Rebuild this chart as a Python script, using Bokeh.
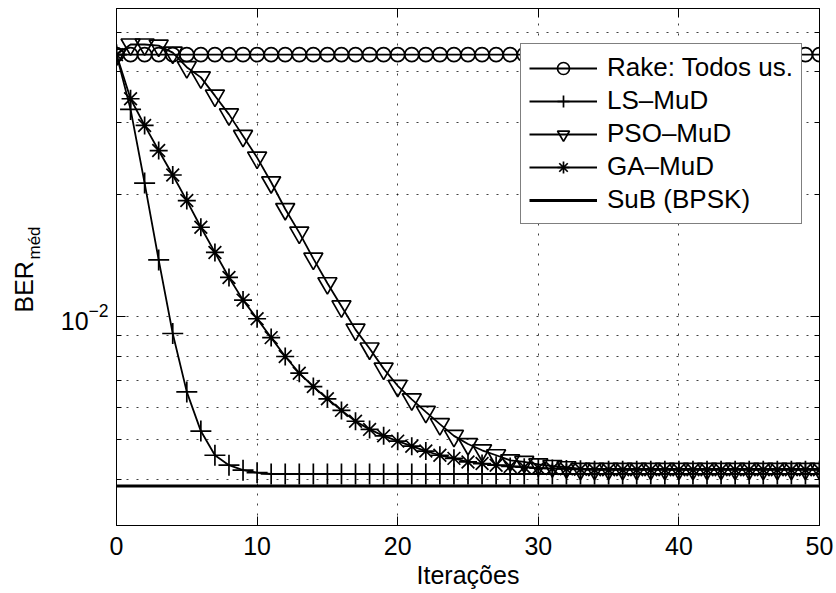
import math
from bokeh.plotting import figure
from bokeh.layouts import row
from bokeh.models import (Range1d, LogAxis, LinearAxis, FixedTicker, Legend,
                          LegendItem, Label, CustomJSTickFormatter)
from bokeh.embed import file_html
from bokeh.resources import INLINE

FONT = "Liberation Sans"

iters = list(range(51))

rake = [0.0440] * 51

ls_mud = [0.0440, 0.0323, 0.0213, 0.0138, 0.00911, 0.00655, 0.00525, 0.00458,
          0.00433, 0.00421, 0.00415] + [0.00412] * 40

pso_mud = [0.0440, 0.0466, 0.0466, 0.0463, 0.0445, 0.0410, 0.0387, 0.0349,
           0.0314, 0.0278, 0.0246, 0.0214, 0.0184, 0.0161, 0.0139, 0.0121,
           0.01062, 0.00931, 0.00837, 0.00747, 0.00678, 0.00628, 0.00585,
           0.00546, 0.00511, 0.00488, 0.00471, 0.00458, 0.00445, 0.00441,
           0.00435, 0.00431, 0.00428] + [0.00424] * 18

ga_mud = [0.0440, 0.0343, 0.0295, 0.0256, 0.0223, 0.0193, 0.0166, 0.0144,
          0.0125, 0.0110, 0.0099, 0.0089, 0.0080, 0.00728, 0.00675, 0.00630,
          0.00590, 0.00555, 0.00530, 0.00511, 0.00496, 0.00482, 0.00469,
          0.00458, 0.00450, 0.00441, 0.00437, 0.00433, 0.00430, 0.00428,
          0.00426, 0.00425, 0.00424, 0.00423] + [0.00422] * 17

sub_bpsk = [0.00385] * 51

labels = ["Rake: Todos us.", "LS\u2013MuD", "PSO\u2013MuD", "GA\u2013MuD", "SuB (BPSK)"]
x_label = "Itera\u00e7\u00f5es"
y_label = "BER"
y_label_sub = "m\u00e9d"

x_ticks = [0, 10, 20, 30, 40, 50]
y_major = [0.01]
y_minor = [0.004, 0.005, 0.006, 0.007, 0.008, 0.009, 0.02, 0.03, 0.04, 0.05]
y_lo, y_hi = 3.08e-3, 0.0571

H = 593
LAB_W = 56
B_TOP = 8
B_BOT = 68

# ---- narrow strip holding the y-axis label (BER with subscript) ----
lab = figure(width=LAB_W, height=H, x_range=Range1d(0, LAB_W), y_range=Range1d(0, H),
             output_backend="svg", toolbar_location=None,
             min_border_left=0, min_border_right=0,
             min_border_top=B_TOP, min_border_bottom=B_BOT,
             x_axis_location=None, y_axis_location=None,
             background_fill_color="white", border_fill_color="white")
lab.outline_line_color = None
lab.grid.grid_line_color = None
# positions measured from the strip's inner frame (bottom edge at page y=525)
lab.add_layout(Label(x=23, y=525 - 312, x_units="screen", y_units="screen", text=y_label,
                     angle=math.pi / 2, text_align="left", text_baseline="alphabetic",
                     text_font=FONT, text_font_size="25px", text_color="black"))
lab.add_layout(Label(x=34, y=525 - 259, x_units="screen", y_units="screen", text=y_label_sub,
                     angle=math.pi / 2, text_align="left", text_baseline="alphabetic",
                     text_font=FONT, text_font_size="17px", text_color="black"))

# ---- main plot ----
p = figure(width=836 - LAB_W, height=H, x_range=Range1d(0, 50), y_range=Range1d(y_lo, y_hi),
           y_axis_type="log", output_backend="svg", toolbar_location=None,
           min_border_left=116 - LAB_W, min_border_right=17, min_border_top=B_TOP,
           min_border_bottom=B_BOT, background_fill_color="white",
           border_fill_color="white")
p.outline_line_color = "black"
p.outline_line_width = 1

xt = FixedTicker(ticks=x_ticks)
yt = FixedTicker(ticks=y_major, minor_ticks=y_minor)
p.xaxis.ticker = xt
p.yaxis.ticker = yt

for ax in [p.xaxis[0], p.yaxis[0]]:
    ax.axis_line_color = "black"
    ax.major_tick_line_color = "black"
    ax.minor_tick_line_color = "black"
    ax.major_tick_in = 9
    ax.major_tick_out = 0
    ax.minor_tick_in = 5
    ax.minor_tick_out = 0
    ax.major_label_text_font = FONT
    ax.major_label_text_font_size = "25px"
    ax.major_label_text_color = "black"
p.xaxis.major_label_standoff = 11
p.yaxis.major_label_standoff = 8

p.xaxis.axis_label = x_label
p.xaxis.axis_label_text_font = FONT
p.xaxis.axis_label_text_font_size = "25px"
p.xaxis.axis_label_text_font_style = "normal"
p.xaxis.axis_label_text_color = "black"
p.xaxis.axis_label_standoff = 3

empty = CustomJSTickFormatter(code="return ''")
right_ax = LogAxis(ticker=yt, formatter=empty, major_tick_in=9, major_tick_out=0,
                   minor_tick_in=5, minor_tick_out=0, major_label_standoff=0,
                   axis_line_color="black")
top_ax = LinearAxis(ticker=xt, formatter=empty, major_tick_in=9, major_tick_out=0,
                    minor_tick_in=0, minor_tick_out=0, major_label_standoff=0,
                    axis_line_color="black")
p.add_layout(right_ax, "right")
p.add_layout(top_ax, "above")

for g in [p.xgrid[0], p.ygrid[0]]:
    g.grid_line_color = "black"
    g.grid_line_dash = "2 8"
    g.grid_line_width = 1
    g.grid_line_alpha = 0.75
p.ygrid.minor_grid_line_color = "black"
p.ygrid.minor_grid_line_dash = "2 8"
p.ygrid.minor_grid_line_alpha = 0.75

LW = 1.8
MW = 1.7
r_rake_l = p.line(iters, rake, line_color="black", line_width=LW)
r_rake_m = p.scatter(iters, rake, marker="circle", size=14, fill_color=None,
                     line_color="black", line_width=MW)
r_ls_l = p.line(iters, ls_mud, line_color="black", line_width=LW)
r_ls_m = p.scatter(iters, ls_mud, marker="cross", size=21, line_color="black",
                   line_width=MW)
r_pso_l = p.line(iters, pso_mud, line_color="black", line_width=LW)
r_pso_m = p.scatter(iters, pso_mud, marker="inverted_triangle", size=19,
                    fill_color=None, line_color="black", line_width=MW)
r_ga_l = p.line(iters, ga_mud, line_color="black", line_width=LW)
r_ga_m = p.scatter(iters, ga_mud, marker="asterisk", size=18, line_color="black",
                   line_width=MW)
r_sub = p.line(iters, sub_bpsk, line_color="black", line_width=2.8)

legend = Legend(items=[
    LegendItem(label=labels[0], renderers=[r_rake_l, r_rake_m]),
    LegendItem(label=labels[1], renderers=[r_ls_l, r_ls_m]),
    LegendItem(label=labels[2], renderers=[r_pso_l, r_pso_m]),
    LegendItem(label=labels[3], renderers=[r_ga_l, r_ga_m]),
    LegendItem(label=labels[4], renderers=[r_sub]),
], location=(404, 301))
legend.label_text_font = FONT
legend.label_text_font_size = "26px"
legend.label_text_color = "black"
legend.glyph_width = 68
legend.glyph_height = 30
legend.label_height = 30
legend.spacing = 2
legend.padding = 8
legend.label_standoff = 10
legend.margin = 0
legend.border_line_color = "black"
legend.border_line_width = 1
legend.background_fill_color = "white"
legend.background_fill_alpha = 1
p.add_layout(legend)

layout = row(lab, p)
open("out.html", "w").write(file_html(layout, INLINE))
